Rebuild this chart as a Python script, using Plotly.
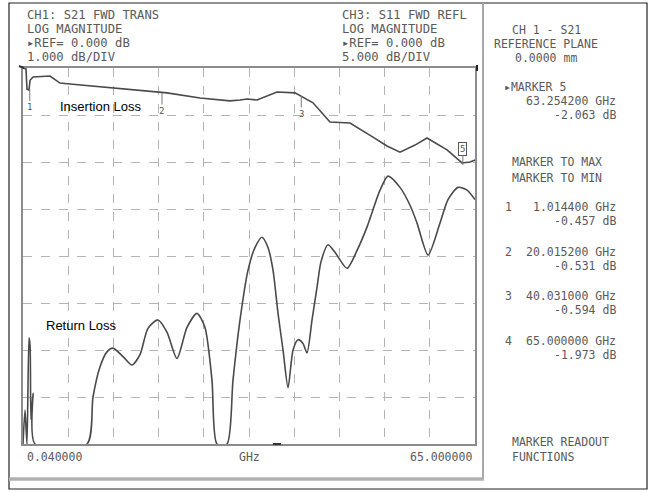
import plotly.graph_objects as go

# ---------------- data ----------------
# S21 (insertion loss), CH1, 1 dB/div
s21_freq_ghz = [0.04, 0.47, 0.61, 0.90, 1.05, 1.48, 3.92, 5.36, 6.79, 11.11, 15.85, 19.73, 20.74,
                25.48, 29.79, 31.23, 32.23, 33.67, 35.11, 36.55, 39.13, 40.86, 41.72, 44.16, 47.04,
                50.34, 52.35, 54.22, 56.38, 58.10, 60.98, 63.14, 64.28, 65.00]
s21_db = [0.00, -0.02, -0.45, -0.47, -0.26, -0.19, -0.17, -0.32, -0.34, -0.40, -0.45, -0.51, -0.53,
          -0.64, -0.70, -0.68, -0.66, -0.68, -0.60, -0.51, -0.53, -0.68, -0.74, -1.15, -1.17,
          -1.47, -1.66, -1.79, -1.64, -1.49, -1.74, -2.02, -2.00, -1.96]

# S11 (return loss), CH3, 5 dB/div
s11_freq_ghz = [0.04, 0.33, 0.61, 0.90, 1.05, 1.19, 1.48, 1.76, 9.24, 10.10, 11.10, 12.11, 12.97,
                14.41, 15.70, 16.85, 18.00, 19.44, 20.73, 22.17, 23.61, 25.04, 26.19, 27.20, 27.92,
                29.36, 30.22, 31.23, 32.38, 33.38, 34.39, 35.25, 35.97, 36.69, 37.41, 38.13, 38.85,
                39.56, 40.28, 40.86, 41.58, 42.30, 42.87, 43.88, 44.88, 46.61, 48.05, 49.49, 51.35,
                52.50, 54.22, 55.66, 56.67, 58.25, 59.97, 61.12, 62.56, 63.85, 65.00]
s11_db = [-40.0, -36.4, -40.0, -28.7, -29.5, -37.4, -34.6, -40.0, -40.0, -35.0, -31.8, -30.2, -29.8,
          -30.7, -31.6, -30.5, -27.7, -26.8, -28.1, -30.9, -27.6, -26.1, -27.6, -33.2, -40.0,
          -40.0, -33.2, -26.8, -21.5, -19.1, -18.0, -19.1, -21.5, -26.1, -30.0, -34.0, -30.0,
          -28.9, -29.3, -30.3, -26.8, -23.3, -20.6, -18.8, -19.6, -21.3, -19.4, -16.9, -13.0,
          -11.5, -12.7, -14.6, -16.5, -19.9, -16.5, -14.0, -12.7, -13.0, -14.0]

# markers
marker_ids = ["1", "2", "3", "4", "5"]
marker_freq_ghz = [1.0144, 20.0152, 40.031, 65.0, 63.2542]
marker_db = [-0.457, -0.531, -0.594, -1.973, -2.063]
marker_freq_text = ["1.014400 GHz", "20.015200 GHz", "40.031000 GHz", "65.000000 GHz", "63.254200 GHz"]
marker_db_text = ["-0.457 dB", "-0.531 dB", "-0.594 dB", "-1.973 dB", "-2.063 dB"]

x_start, x_stop = 0.04, 65.0
s21_ref, s21_scale = 0.0, 1.0
s11_ref, s11_scale = 0.0, 5.0
n_xdiv, n_ydiv = 10, 8

# ---------------- layout helpers ----------------
W, H = 649, 492
PL, PR, PT, PB = 23, 475, 68, 444


def px(x):
    return x / W


def py(y):
    return 1 - y / H


TRACE = "#4a4a4a"
TXT = "#5a5a5a"
MONO = "DejaVu Sans Mono"

fig = go.Figure()
fig.add_trace(go.Scatter(x=s21_freq_ghz, y=s21_db, mode="lines", yaxis="y",
                         line=dict(color=TRACE, width=1.6), showlegend=False, hoverinfo="skip"))
fig.add_trace(go.Scatter(x=s11_freq_ghz, y=s11_db, mode="lines", yaxis="y2",
                         line=dict(color=TRACE, width=1.6, shape="spline", smoothing=0.7),
                         showlegend=False, hoverinfo="skip"))

grid = dict(showgrid=True, gridcolor="#b4b4b4", griddash="dash", gridwidth=1,
            showticklabels=False, ticks="", zeroline=False,
            showline=True, linecolor="#8c8c8c", linewidth=2, mirror=True)

fig.update_layout(
    width=W, height=H,
    margin=dict(l=0, r=0, t=0, b=0),
    paper_bgcolor="white", plot_bgcolor="white",
    xaxis=dict(domain=[px(PL), px(PR)], range=[x_start, x_stop],
               tick0=x_start, dtick=(x_stop - x_start) / n_xdiv, **grid),
    yaxis=dict(domain=[py(PB), py(PT)],
               range=[s21_ref - n_ydiv * s21_scale, s21_ref],
               tick0=s21_ref, dtick=s21_scale, **grid),
    yaxis2=dict(overlaying="y", range=[s11_ref - n_ydiv * s11_scale, s11_ref],
                showgrid=False, showticklabels=False, ticks="", zeroline=False, showline=False),
    showlegend=False,
)

shapes = []
# outer border
shapes.append(dict(type="rect", xref="paper", yref="paper", x0=px(9), x1=px(647), y0=py(489), y1=py(3),
                   line=dict(color="#222", width=1.2), layer="below"))
# screen frame: divider and bottom band
shapes.append(dict(type="line", xref="paper", yref="paper", x0=px(483), x1=px(483), y0=py(480), y1=py(3),
                   line=dict(color="#a8a8a8", width=2)))
shapes.append(dict(type="line", xref="paper", yref="paper", x0=px(9), x1=px(484), y0=py(479), y1=py(479),
                   line=dict(color="#b0b0b0", width=3.5)))
# reference indicators
shapes.append(dict(type="line", xref="paper", yref="paper", x0=px(19), x1=px(24), y0=py(66), y1=py(68),
                   line=dict(color="#333", width=2)))
shapes.append(dict(type="line", xref="paper", yref="paper", x0=px(477), x1=px(477), y0=py(65), y1=py(71),
                   line=dict(color="#222", width=2)))
shapes.append(dict(type="line", xref="paper", yref="paper", x0=px(273), x1=px(281), y0=py(444), y1=py(444),
                   line=dict(color="#333", width=2)))
fig.update_layout(shapes=shapes)

ann = []


def txt(x, y, s, anchor="left", size=11.5, color=TXT, font=MONO):
    ann.append(dict(x=px(x), y=py(y), xref="paper", yref="paper", text=s, showarrow=False,
                    xanchor=anchor, yanchor="middle", font=dict(family=font, size=size, color=color)))


# channel headers
for i, s in enumerate(["CH1: S21 FWD TRANS", "LOG MAGNITUDE", "\u25b8REF= 0.000 dB", "1.000 dB/DIV"]):
    txt(25, 15 + i * 14, s, size=12.2)
for i, s in enumerate(["CH3: S11 FWD REFL", "LOG MAGNITUDE", "\u25b8REF= 0.000 dB", "5.000 dB/DIV"]):
    txt(340, 15 + i * 14, s, size=12.2)

# x axis labels
txt(25, 457, "0.040000")
txt(249, 457, "GHz", anchor="center")
txt(474, 457, "65.000000", anchor="right")

# readout panel
txt(546, 30, "CH 1 - S21", anchor="center")
txt(546, 44, "REFERENCE PLANE", anchor="center")
txt(546, 58, "0.0000 mm", anchor="center")
txt(502, 87, "\u25b8MARKER " + marker_ids[4])
txt(618, 101, marker_freq_text[4], anchor="right")
txt(618, 115, marker_db_text[4], anchor="right")
txt(510, 162, "MARKER TO MAX")
txt(510, 178, "MARKER TO MIN")
for i in range(4):
    y0 = 207 + i * 44.5
    txt(508, y0, marker_ids[i], anchor="center")
    txt(618, y0, marker_freq_text[i], anchor="right")
    txt(618, y0 + 14, marker_db_text[i], anchor="right")
txt(510, 442, "MARKER READOUT")
txt(510, 457, "FUNCTIONS")

# trace labels
txt(58, 106, "Insertion Loss", size=13, color="#000", font="Liberation Sans, Arial")
txt(44, 325, "Return Loss", size=13, color="#000", font="Liberation Sans, Arial")

# markers on S21 trace
for i in range(5):
    if marker_ids[i] == "4":
        continue
    active = marker_ids[i] == "5"
    ann.append(dict(x=marker_freq_ghz[i], y=marker_db[i], xref="x", yref="y",
                    text=marker_ids[i], showarrow=True, arrowhead=0, arrowwidth=1,
                    arrowcolor="#777", ax=0, ay=(-16 if active else 18),
                    font=dict(family=MONO, size=9, color="#555"),
                    bordercolor=("#555" if active else "rgba(0,0,0,0)"), borderwidth=1, borderpad=1,
                    bgcolor="white" if active else "rgba(0,0,0,0)"))
fig.update_layout(annotations=ann)

fig.write_html("out.html", config={"displayModeBar": False},
               post_script="document.body.style.margin='0';document.body.style.overflow='hidden';")
